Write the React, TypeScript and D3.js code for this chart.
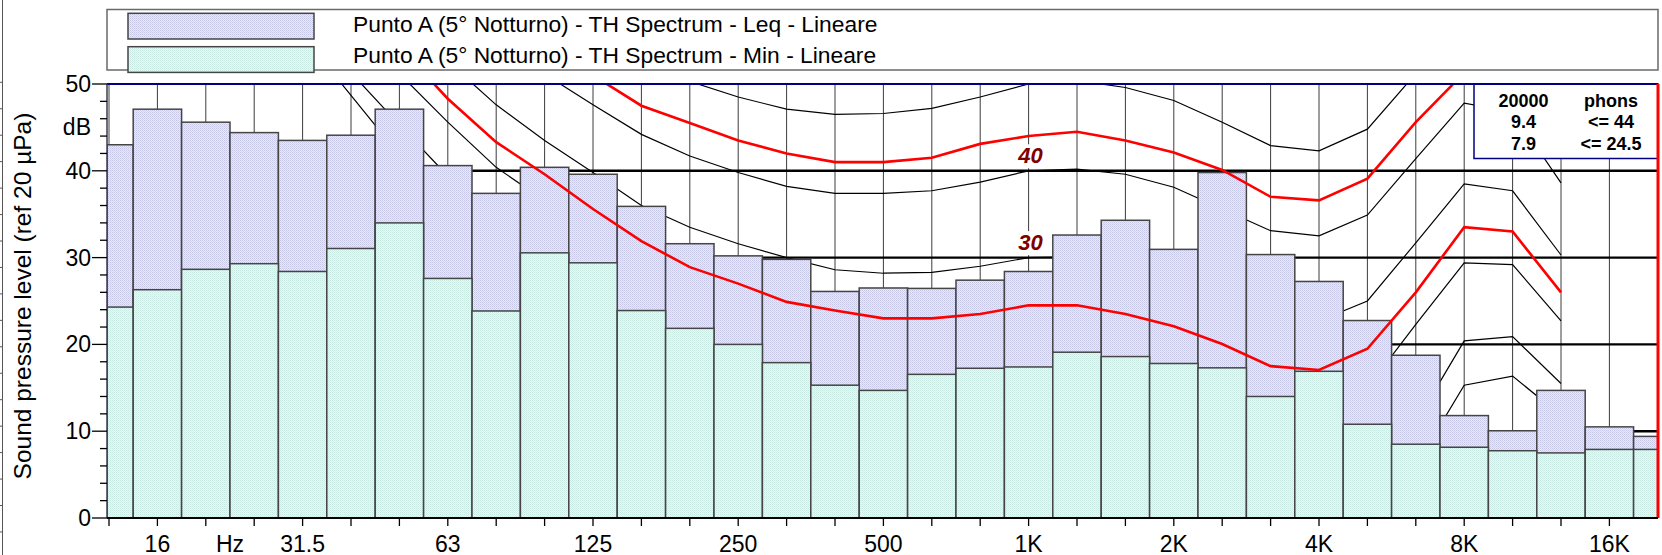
import React from "react";
import * as d3 from "d3";

// ---------- data ----------
const BANDS = ["12.5","16","20","25","31.5","40","50","63","80","100","125","160","200","250","315","400","500","630","800","1K","1.25K","1.6K","2K","2.5K","3.15K","4K","5K","6.3K","8K","10K","12.5K","16K","20K"];

const LEQ = [43.0,47.1,45.6,44.4,43.5,44.1,47.1,40.6,37.4,40.4,39.6,35.9,31.6,30.2,29.8,26.1,26.5,26.45,27.4,28.4,32.6,34.3,30.95,39.8,30.35,27.25,22.75,18.75,11.8,10.05,14.7,10.5,9.4];
const MIN = [24.3,26.3,28.65,29.3,28.4,31.05,34.0,27.6,23.85,30.55,29.4,23.9,21.85,20.0,17.9,15.3,14.7,16.55,17.25,17.4,19.1,18.6,17.8,17.3,14.0,16.9,10.8,8.5,8.15,7.75,7.5,7.9,7.9];

const _ = null;
const PHON_5 = [_,_,_,_,55.5,48.7,41.8,36.0,31.0,26.5,22.2,18.0,14.6,12.0,9.3,7.6,6.1,5.5,5.4,5.0,5.0,4.0,2.6,0.6,-1.9,-2.2,0.2,6.0,15.3,16.35,11.8,_,_];
const PHON_10 = [_,_,_,_,_,51.3,45.3,39.4,34.0,29.8,25.5,21.5,18.2,15.8,13.3,11.9,10.6,10.2,10.3,10.0,10.0,9.0,7.6,5.6,3.1,2.7,5.0,11.0,20.4,20.9,15.5,_,_];
const PHON_20 = [_,_,_,_,_,_,51.2,45.6,40.4,36.55,32.2,28.3,25.1,23.0,20.7,19.6,18.6,18.5,19.0,20.0,20.0,19.0,17.7,15.7,13.2,12.8,15.0,22.3,29.4,29.2,22.7,_,_];
const PHON_24_5 = [_,_,_,_,_,_,54.3,48.3,43.3,39.6,35.6,31.9,28.9,27.0,24.9,23.9,23.0,23.0,23.5,24.5,24.5,23.5,22.1,20.05,17.5,17.05,19.5,26.0,33.5,33.0,26.0,_,_];
const PHON_30 = [_,_,_,_,_,_,_,52.6,47.6,43.5,39.8,36.0,33.5,31.6,30.0,28.6,28.2,28.3,29.0,30.0,30.1,29.2,27.8,25.5,23.0,22.7,25.0,31.7,38.5,37.7,30.3,_,_];
const PHON_40 = [_,_,_,_,_,_,_,_,_,51.15,47.6,44.2,41.7,39.8,38.2,37.4,37.4,37.7,38.7,40.0,40.2,39.6,38.1,35.6,33.1,32.5,34.9,41.4,47.8,46.8,38.6,_,_];
const PHON_44 = [_,_,_,_,_,_,_,_,_,_,51.0,47.5,45.5,43.5,42.0,41.0,41.0,41.5,43.1,44.0,44.5,43.5,42.1,40.1,37.0,36.6,39.1,45.6,51.3,51.0,42.5,_,_];
const PHON_50 = [_,_,_,_,_,_,_,_,_,_,_,53.0,50.3,48.5,47.1,46.5,46.6,47.2,48.5,50.0,50.4,49.6,48.1,45.6,42.9,42.3,44.8,51.2,_,_,_,_,_];

const BLACK_CONTOURS = [PHON_5, PHON_10, PHON_20, PHON_30, PHON_40, PHON_50];
const RED_CONTOURS = [PHON_24_5, PHON_44];
const CONTOUR_LABELS = ["40", "30"];
const CONTOUR_LABEL_BAND = "1K";

const Y_TICK_LABELS = ["0", "10", "20", "30", "40", "50"];
const Y_UNIT = "dB";
const X_TICK_LABELS = ["16", "Hz", "31.5", "63", "125", "250", "500", "1K", "2K", "4K", "8K", "16K"];
const LEGEND = [
  "Punto A (5° Notturno) - TH Spectrum - Leq - Lineare",
  "Punto A (5° Notturno) - TH Spectrum - Min - Lineare",
];
const STATS_HEAD = ["20000", "phons"];
const STATS_ROWS = [["9.4", "<= 44"], ["7.9", "<= 24.5"]];
const Y_TITLE = "Sound pressure level (ref 20 µPa)";

// ---------- layout ----------
const W = 1662, H = 555;
const PL = 107, PR = 1658, PT = 84, PB = 518;
const FONT = "'Liberation Sans', Arial, Helvetica, sans-serif";

export default function App() {
  const x = d3.scaleLinear().domain([0, BANDS.length - 1]).range([109, 1657.8]);
  const y = d3.scaleLinear().domain([0, 50]).range([PB, PT]);
  const line = d3
    .line<number | null>()
    .defined((d) => d !== null)
    .x((_d, i) => x(i))
    .y((d) => y(d as number));

  const bandPos = (lab: string) => {
    if (lab === "Hz") return (BANDS.indexOf("20") + BANDS.indexOf("25")) / 2;
    return BANDS.indexOf(lab);
  };

  const minorTicks = d3.range(0, 51, 2).filter((v) => v % 10 !== 0);
  const gridLevels = [10, 20, 30, 40];
  const bandIdx = d3.range(0, BANDS.length - 1);
  const stubTicks = d3.range(0, 18).map((k) => 82.3 + k * 26.45);
  const lblX = x(BANDS.indexOf(CONTOUR_LABEL_BAND));

  const barRect = (i: number, v: number, fill: string, key: string) => {
    const x0 = Math.max(PL, x(i - 0.5));
    const x1 = Math.min(PR, x(i + 0.5));
    return (
      <rect key={key} x={x0} y={y(v)} width={x1 - x0} height={y(0) - y(v)}
        fill={fill} stroke="#454545" strokeWidth={1.5} />
    );
  };

  return (
    <div style={{ position: "absolute", left: 0, top: 0 }}>
      <svg width={W} height={H} style={{ display: "block", fontFamily: FONT }}>
        <defs>
          <clipPath id="plotClip">
            <rect x={PL} y={PT} width={PR - PL} height={PB - PT} />
          </clipPath>
          <pattern id="pLeq" width="2" height="2" patternUnits="userSpaceOnUse">
            <rect width="2" height="2" fill="#e8e8f6" />
            <rect x="0" y="0" width="1" height="1" fill="#c6c6e6" />
            <rect x="1" y="1" width="1" height="1" fill="#d4d4ee" />
          </pattern>
          <pattern id="pMin" width="2" height="2" patternUnits="userSpaceOnUse">
            <rect width="2" height="2" fill="#eaf7f5" />
            <rect x="0" y="0" width="1" height="1" fill="#c8e8e2" />
            <rect x="1" y="1" width="1" height="1" fill="#d6efeb" />
          </pattern>
        </defs>
        <rect width={W} height={H} fill="#ffffff" />

        {/* far-left stub axis */}
        <line x1={2.5} y1={0} x2={2.5} y2={H} stroke="#555" strokeWidth={1} />
        {stubTicks.map((t, k) => (
          <line key={"st" + k} x1={0} y1={t} x2={2.5} y2={t} stroke="#555" strokeWidth={1} />
        ))}

        {/* legend */}
        <rect x={107} y={9.5} width={PR - 107} height={60.5} fill="#fff" stroke="#6a6a6a" strokeWidth={1.5} />
        {LEGEND.map((t, k) => (
          <g key={"lg" + k}>
            <rect x={128} y={13.3 + k * 33.4} width={186} height={25.7}
              fill={k === 0 ? "url(#pLeq)" : "url(#pMin)"} stroke="#454545" strokeWidth={1.5} />
            <text x={353} y={31.7 + k * 31.6} fontSize={22.8} fill="#000">{t}</text>
          </g>
        ))}

        {/* plot */}
        <g clipPath="url(#plotClip)">
          {bandIdx.map((i) => (
            <line key={"vg" + i} x1={x(i)} y1={PT} x2={x(i)} y2={PB} stroke="#3c3c3c" strokeWidth={1} />
          ))}
          {gridLevels.map((v) => (
            <line key={"hg" + v} x1={PL} y1={y(v)} x2={PR} y2={y(v)} stroke="#000" strokeWidth={2.4} />
          ))}
          {BLACK_CONTOURS.map((c, k) => (
            <path key={"bc" + k} d={line(c) || ""} fill="none" stroke="#000" strokeWidth={1.2} />
          ))}
          {LEQ.map((v, i) => barRect(i, v, "url(#pLeq)", "bl" + i))}
          {MIN.map((v, i) => barRect(i, v, "url(#pMin)", "bm" + i))}
          {RED_CONTOURS.map((c, k) => (
            <path key={"rc" + k} d={line(c) || ""} fill="none" stroke="#ff0000" strokeWidth={2.6} />
          ))}
        </g>

        {/* contour labels */}
        {CONTOUR_LABELS.map((t) => {
          const base = y(+t) - 7.5;
          return (
            <g key={"cl" + t}>
              <rect x={lblX - 12} y={base - 19} width={28} height={24} fill="#fff" />
              <text x={lblX + 2} y={base} fontSize={22} fontWeight="bold" fontStyle="italic"
                textAnchor="middle" fill="#7f0000">{t}</text>
            </g>
          );
        })}

        {/* stats box */}
        <rect x={1474} y={PT} width={PR - 1474} height={74.5} fill="#fff" stroke="#000080" strokeWidth={1.5} />
        {[STATS_HEAD, ...STATS_ROWS].map((r, k) => (
          <g key={"sr" + k} fontSize={18} fontWeight="bold" textAnchor="middle" fill="#000">
            <text x={1523.5} y={106.5 + k * 21.5}>{r[0]}</text>
            <text x={1611} y={106.5 + k * 21.5}>{r[1]}</text>
          </g>
        ))}

        {/* frame */}
        <line x1={PL} y1={PT} x2={PR} y2={PT} stroke="#000080" strokeWidth={2.2} />
        <line x1={PL} y1={PT} x2={PL} y2={PB} stroke="#3a3a50" strokeWidth={1.5} />
        <line x1={PR} y1={PT} x2={PR} y2={PB} stroke="#ff0000" strokeWidth={3} />
        <line x1={PL} y1={PB} x2={PR} y2={PB} stroke="#000" strokeWidth={2} />

        {/* y axis */}
        {Y_TICK_LABELS.map((t) => (
          <g key={"yt" + t}>
            <line x1={92} y1={y(+t)} x2={PL} y2={y(+t)} stroke="#000" strokeWidth={1.3} />
            <text x={91} y={y(+t) + 8} fontSize={23} textAnchor="end" fill="#000">{t}</text>
          </g>
        ))}
        {minorTicks.map((v) => (
          <line key={"ym" + v} x1={100} y1={y(v)} x2={PL} y2={y(v)} stroke="#000" strokeWidth={1.3} />
        ))}
        <text x={91} y={y(45) + 8} fontSize={23} textAnchor="end" fill="#000">{Y_UNIT}</text>
        <text transform={`translate(30.5,296) rotate(-90)`} fontSize={24.5} textAnchor="middle" fill="#000">{Y_TITLE}</text>

        {/* x axis */}
        {bandIdx.map((i) => (
          <line key={"xt" + i} x1={x(i)} y1={PB} x2={x(i)} y2={PB + 8} stroke="#000" strokeWidth={1.3} />
        ))}
        {X_TICK_LABELS.map((t) => (
          <text key={"xl" + t} x={x(bandPos(t))} y={551.5} fontSize={23} textAnchor="middle" fill="#000">{t}</text>
        ))}
      </svg>
    </div>
  );
}
